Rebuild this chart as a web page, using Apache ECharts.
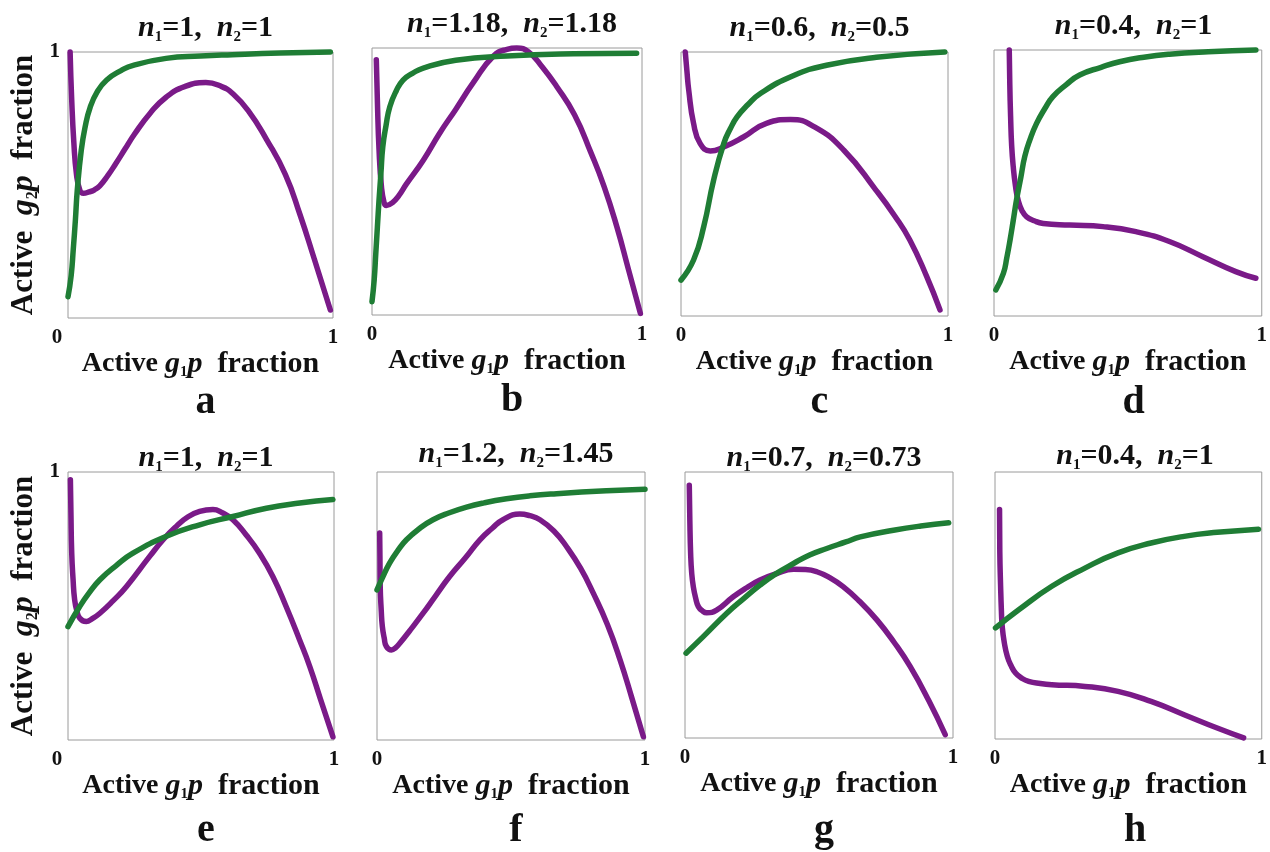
<!DOCTYPE html>
<html><head><meta charset="utf-8">
<script src="https://cdn.jsdelivr.net/npm/echarts@6/dist/echarts.min.js"></script>
<style>html,body{margin:0;padding:0;background:#fff}#c{width:1270px;height:852px}</style>
</head><body><div id="c"></div><script>
// ---------- data ----------
const panelLetters = ['a','b','c','d','e','f','g','h'];
const n1Values = ['1','1.18','0.6','0.4','1','1.2','0.7','0.4'];
const n2Values = ['1','1.18','0.5','1','1','1.45','0.73','1'];
const xTickLabels = ['0','1'];
const yTickLabels = ['0','1'];

const purpleA = [[0.008,1.0],[0.014,0.82],[0.022,0.66],[0.032,0.54],[0.045,0.48],[0.058,0.469],[0.08,0.474],[0.1,0.482],[0.12,0.497],[0.15,0.535],[0.18,0.58],[0.215,0.635],[0.25,0.69],[0.31,0.77],[0.37,0.83],[0.44,0.87],[0.52,0.885],[0.58,0.87],[0.62,0.845],[0.68,0.78],[0.75,0.67],[0.82,0.54],[0.875,0.39],[0.93,0.22],[0.99,0.03]];
const greenA = [[0,0.08],[0.012,0.16],[0.02,0.26],[0.028,0.37],[0.035,0.48],[0.05,0.63],[0.065,0.72],[0.083,0.79],[0.11,0.85],[0.146,0.895],[0.2,0.93],[0.246,0.95],[0.37,0.976],[0.5,0.985],[0.62,0.99],[0.8,0.996],[0.99,1.0]];

const purpleB = [[0.016,0.956],[0.02,0.8],[0.026,0.62],[0.035,0.48],[0.045,0.42],[0.053,0.41],[0.075,0.42],[0.1,0.448],[0.127,0.49],[0.19,0.58],[0.25,0.68],[0.31,0.77],[0.375,0.87],[0.45,0.97],[0.5,0.995],[0.536,1.0],[0.58,0.985],[0.63,0.93],[0.684,0.856],[0.75,0.75],[0.81,0.61],[0.86,0.48],[0.907,0.33],[0.95,0.17],[0.994,0.006]];
const greenB = [[0,0.05],[0.008,0.13],[0.014,0.23],[0.02,0.33],[0.026,0.43],[0.033,0.53],[0.04,0.63],[0.052,0.71],[0.066,0.78],[0.09,0.84],[0.115,0.88],[0.15,0.905],[0.19,0.925],[0.31,0.954],[0.5,0.97],[0.746,0.978],[0.98,0.98]];

const purpleC = [[0.016,1.0],[0.022,0.93],[0.029,0.855],[0.047,0.73],[0.072,0.653],[0.11,0.625],[0.16,0.64],[0.234,0.678],[0.32,0.73],[0.41,0.744],[0.5,0.716],[0.61,0.628],[0.73,0.477],[0.8,0.38],[0.857,0.288],[0.92,0.15],[0.97,0.023]];
const greenC = [[0,0.136],[0.047,0.212],[0.085,0.338],[0.122,0.514],[0.16,0.653],[0.185,0.71],[0.21,0.754],[0.25,0.8],[0.296,0.842],[0.42,0.91],[0.545,0.95],[0.732,0.98],[0.988,1.0]];

const purpleD = [[0.057,1.0],[0.059,0.87],[0.062,0.75],[0.066,0.64],[0.072,0.56],[0.08,0.49],[0.09,0.436],[0.105,0.395],[0.122,0.373],[0.15,0.358],[0.184,0.348],[0.283,0.342],[0.407,0.336],[0.53,0.317],[0.655,0.28],[0.78,0.223],[0.903,0.167],[0.978,0.142]];
const greenD = [[0.007,0.098],[0.035,0.16],[0.048,0.22],[0.06,0.286],[0.072,0.36],[0.084,0.436],[0.1,0.52],[0.115,0.6],[0.135,0.665],[0.159,0.724],[0.19,0.78],[0.22,0.825],[0.27,0.87],[0.32,0.906],[0.4,0.935],[0.469,0.956],[0.56,0.973],[0.655,0.984],[0.8,0.993],[0.978,1.0]];

const purpleE = [[0.009,0.971],[0.011,0.85],[0.014,0.697],[0.019,0.6],[0.025,0.523],[0.034,0.48],[0.044,0.455],[0.069,0.442],[0.09,0.452],[0.12,0.473],[0.17,0.52],[0.22,0.573],[0.307,0.685],[0.36,0.75],[0.407,0.797],[0.45,0.832],[0.495,0.853],[0.545,0.86],[0.58,0.848],[0.62,0.822],[0.67,0.765],[0.72,0.697],[0.77,0.61],[0.82,0.498],[0.87,0.375],[0.909,0.274],[0.95,0.15],[0.996,0.012]];
const greenE = [[0,0.423],[0.044,0.498],[0.08,0.55],[0.12,0.598],[0.18,0.65],[0.244,0.697],[0.37,0.76],[0.495,0.803],[0.62,0.834],[0.746,0.865],[0.871,0.884],[0.996,0.897]];

const purpleF = [[0.01,0.772],[0.011,0.68],[0.012,0.573],[0.016,0.48],[0.02,0.423],[0.027,0.38],[0.035,0.349],[0.054,0.336],[0.07,0.345],[0.085,0.361],[0.12,0.405],[0.172,0.473],[0.22,0.54],[0.271,0.61],[0.33,0.68],[0.384,0.747],[0.43,0.79],[0.47,0.822],[0.533,0.843],[0.57,0.837],[0.608,0.822],[0.66,0.78],[0.707,0.722],[0.76,0.64],[0.807,0.548],[0.86,0.43],[0.907,0.299],[0.95,0.16],[0.994,0.012]];
const greenF = [[0,0.56],[0.02,0.605],[0.047,0.66],[0.08,0.71],[0.11,0.747],[0.16,0.79],[0.209,0.822],[0.27,0.848],[0.334,0.869],[0.4,0.885],[0.483,0.9],[0.57,0.911],[0.67,0.919],[0.857,0.93],[1.0,0.936]];

const purpleG = [[0.016,0.95],[0.018,0.82],[0.021,0.694],[0.025,0.62],[0.031,0.569],[0.04,0.525],[0.05,0.494],[0.065,0.478],[0.081,0.471],[0.118,0.481],[0.18,0.531],[0.23,0.565],[0.28,0.594],[0.34,0.617],[0.405,0.634],[0.45,0.633],[0.492,0.625],[0.54,0.603],[0.59,0.569],[0.65,0.515],[0.716,0.444],[0.78,0.36],[0.84,0.269],[0.91,0.14],[0.971,0.0125]];
const greenG = [[0.004,0.319],[0.068,0.381],[0.156,0.469],[0.22,0.525],[0.28,0.575],[0.34,0.618],[0.405,0.656],[0.465,0.688],[0.529,0.7125],[0.6,0.737],[0.654,0.756],[0.778,0.781],[0.88,0.797],[0.984,0.809]];

const purpleH = [[0.017,0.86],[0.018,0.7],[0.021,0.572],[0.024,0.48],[0.027,0.422],[0.035,0.36],[0.046,0.31],[0.06,0.275],[0.077,0.247],[0.1,0.228],[0.126,0.216],[0.17,0.208],[0.213,0.2035],[0.337,0.197],[0.461,0.1785],[0.585,0.141],[0.709,0.091],[0.833,0.041],[0.932,0.004]];
const greenH = [[0.002,0.416],[0.089,0.484],[0.213,0.572],[0.337,0.64],[0.461,0.697],[0.585,0.734],[0.709,0.759],[0.833,0.774],[0.988,0.786]];

const purpleSeries = [purpleA,purpleB,purpleC,purpleD,purpleE,purpleF,purpleG,purpleH];
const greenSeries = [greenA,greenB,greenC,greenD,greenE,greenF,greenG,greenH];

// ---------- layout ----------
const grids = [
  {left:68, top:52, width:265, height:266},
  {left:372, top:48, width:270, height:267},
  {left:681, top:52, width:267, height:264},
  {left:994, top:50, width:269, height:266},
  {left:68, top:472, width:266, height:268},
  {left:377, top:472, width:268, height:268},
  {left:685, top:472, width:268, height:266},
  {left:995, top:472, width:270, height:267}
];
const titleTops = [6,2,6,4,436,432,436,434];
const letterTops = [378,376,378,378,806,806,806,806];
const FF = '"Liberation Serif","Times New Roman",serif';
const PURPLE = '#7a1a88';
const GREEN = '#1f7d35';
const INK = '#111';

const titleRich = {
  n:{fontFamily:FF,fontWeight:'bold',fontStyle:'italic',fontSize:30,lineHeight:34,color:INK},
  s:{fontFamily:FF,fontWeight:'bold',fontSize:15,lineHeight:13,verticalAlign:'bottom',color:INK},
  t:{fontFamily:FF,fontWeight:'bold',fontSize:30,lineHeight:34,color:INK}
};
const nameRich = {
  t:{fontFamily:FF,fontWeight:'bold',fontSize:28,lineHeight:32,color:INK},
  f:{fontFamily:FF,fontWeight:'bold',fontSize:30,lineHeight:32,color:INK},
  i:{fontFamily:FF,fontWeight:'bold',fontStyle:'italic',fontSize:30,lineHeight:32,color:INK},
  s:{fontFamily:FF,fontWeight:'bold',fontSize:15,lineHeight:13,verticalAlign:'bottom',color:INK}
};
const yNameRich = {
  t:{fontFamily:FF,fontWeight:'bold',fontSize:31,lineHeight:34,color:INK},
  i:{fontFamily:FF,fontWeight:'bold',fontStyle:'italic',fontSize:32,lineHeight:34,color:INK},
  s:{fontFamily:FF,fontWeight:'bold',fontSize:16,lineHeight:14,verticalAlign:'bottom',color:INK}
};
const tickStyle = {fontFamily:FF,fontWeight:'bold',fontSize:21,color:INK};

const option = {animation:false, backgroundColor:'#fff', title:[], grid:[], xAxis:[], yAxis:[], series:[]};

grids.forEach((g,i)=>{
  const cx = g.left + g.width/2;
  const leftCol = (i % 4 === 0);
  option.grid.push({left:g.left, top:g.top, width:g.width, height:g.height, show:true, borderColor:'#9a9a9a', borderWidth:1, containLabel:false});
  option.title.push({
    text:'{n|n}{s|1}{t|=' + n1Values[i] + ',  }{n|n}{s|2}{t|=' + n2Values[i] + '}',
    left:cx, top:titleTops[i], textAlign:'center',
    textStyle:{rich:titleRich}
  });
  option.title.push({
    text:panelLetters[i], left:cx, top:letterTops[i], textAlign:'center',
    textStyle:{fontFamily:FF,fontWeight:'bold',fontSize:40,color:INK}
  });
  option.xAxis.push({
    type:'value', gridIndex:i, min:0, max:1, interval:1,
    axisLine:{show:false}, axisTick:{show:false}, splitLine:{show:false},
    axisLabel:{show:true, margin:9, ...tickStyle,
      formatter:(v)=> v===0 ? (leftCol ? '{l|' + xTickLabels[0] + '}' : xTickLabels[0]) : xTickLabels[1],
      rich:{l:{...tickStyle, padding:[0,22,0,0]}}
    },
    name:'{t|Active }{i|g}{s|1}{i|p}{f|  fraction}',
    nameLocation:'middle', nameGap:22, nameTextStyle:{rich:nameRich}
  });
  option.yAxis.push({
    type:'value', gridIndex:i, min:0, max:1, interval:1,
    axisLine:{show:false}, axisTick:{show:false}, splitLine:{show:false},
    axisLabel:{show:leftCol, showMinLabel:false, margin:8, ...tickStyle,
      formatter:(v)=> v===0 ? yTickLabels[0] : yTickLabels[1]},
    name: leftCol ? '{t|Active  }{i|g}{s|2}{i|p}{t|  fraction}' : '',
    nameLocation:'middle', nameRotate:90, nameGap:27, nameTextStyle:{rich:yNameRich}
  });
  option.series.push({
    type:'line', xAxisIndex:i, yAxisIndex:i, data:purpleSeries[i], smooth:0.5,
    showSymbol:false, symbol:'none', clip:false,
    lineStyle:{color:PURPLE, width:5.5, cap:'round', join:'round'}, z:2
  });
  option.series.push({
    type:'line', xAxisIndex:i, yAxisIndex:i, data:greenSeries[i], smooth:0.5,
    showSymbol:false, symbol:'none', clip:false,
    lineStyle:{color:GREEN, width:5.5, cap:'round', join:'round'}, z:3
  });
});

const chart = echarts.init(document.getElementById('c'), null, {renderer:'canvas'});
chart.setOption(option);
</script></body></html>
